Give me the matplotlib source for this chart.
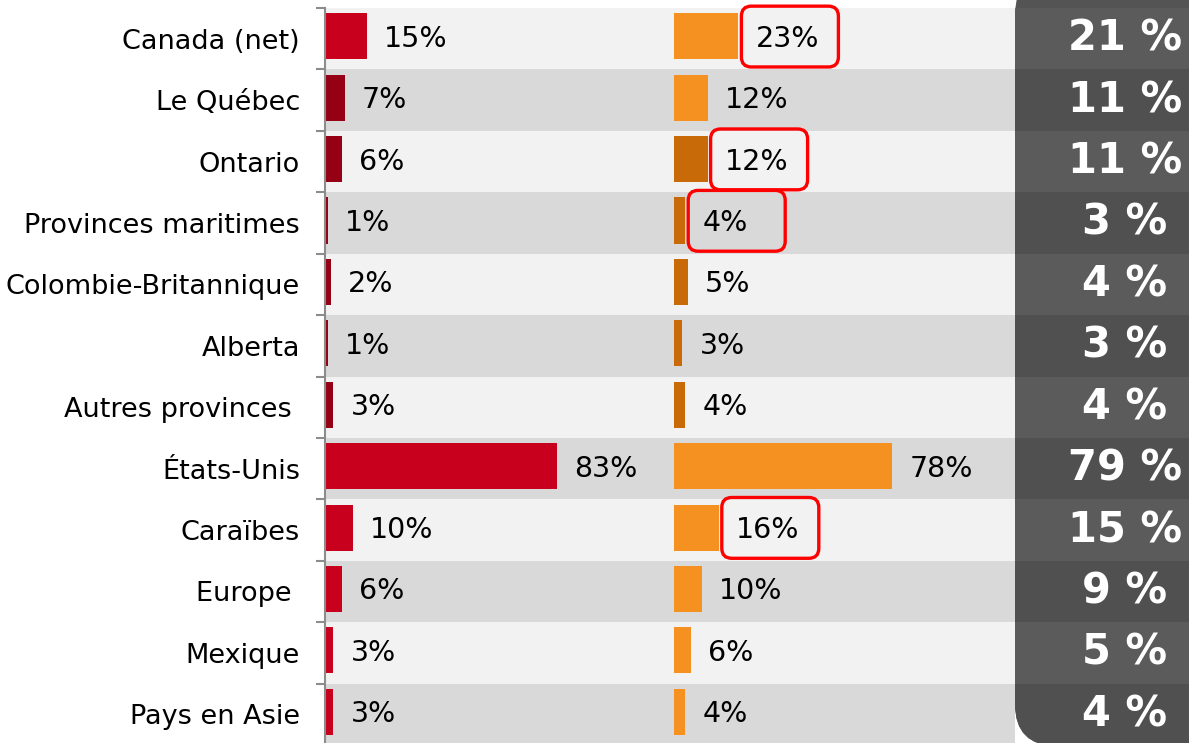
import matplotlib
matplotlib.use("Agg")
import matplotlib.pyplot as plt
from matplotlib.patches import FancyBboxPatch

categories = ["Canada (net)", "Le Québec", "Ontario", "Provinces maritimes",
              "Colombie-Britannique", "Alberta", "Autres provinces ", "États-Unis",
              "Caraïbes", "Europe ", "Mexique", "Pays en Asie"]
col1 = [15, 7, 6, 1, 2, 1, 3, 83, 10, 6, 3, 3]
col2 = [23, 12, 12, 4, 5, 3, 4, 78, 16, 10, 6, 4]
total = [21, 11, 11, 3, 4, 3, 4, 79, 15, 9, 5, 4]
highlighted = ["Canada (net)", "Ontario", "Provinces maritimes", "Caraïbes"]
subregions1 = ["Le Québec", "Ontario", "Provinces maritimes", "Colombie-Britannique",
               "Alberta", "Autres provinces "]
subregions2 = ["Ontario", "Provinces maritimes", "Colombie-Britannique",
               "Alberta", "Autres provinces "]

W, H, DPI = 1189, 743, 100
fig = plt.figure(figsize=(W / DPI, H / DPI), dpi=DPI)
fig.patch.set_facecolor("white")

PX_PER_PCT = 2.8
ROW_TOP, ROW_BOT = 8, 745
n = len(categories)

def fx(px):
    return px / W

y0 = (H - ROW_BOT) / H
hgt = (ROW_BOT - ROW_TOP) / H

ax1 = fig.add_axes([fx(325), y0, fx(674 - 325), hgt])
ax2 = fig.add_axes([fx(674), y0, fx(1015 - 674), hgt])
ax3 = fig.add_axes([fx(1015), y0, fx(W - 1015), hgt])

band_light, band_dark = "#f2f2f2", "#d9d9d9"
for ax, width_px in ((ax1, 674 - 325), (ax2, 1015 - 674)):
    ax.set_xlim(0, width_px / PX_PER_PCT)
    ax.set_ylim(n, 0)
    for i in range(n):
        ax.axhspan(i, i + 1, color=band_light if i % 2 == 0 else band_dark, lw=0, zorder=0)

red, dred = "#c8001e", "#960014"
org, dorg = "#f59121", "#c86a08"
fs_val = 20.5
ypos = [i + 0.46 for i in range(n)]
ytxt = [i + 0.5 for i in range(n)]

c1 = [dred if c in subregions1 else red for c in categories]
c2 = [dorg if c in subregions2 else org for c in categories]
ax1.barh(ypos, col1, height=0.75, color=c1, zorder=2)
ax2.barh(ypos, col2, height=0.75, color=c2, zorder=2)

for ax, vals in ((ax1, col1), (ax2, col2)):
    for y, v in zip(ytxt, vals):
        ax.annotate(f"{v}%", (v, y), xytext=(17 * 72 / DPI, 0), textcoords="offset points",
                    ha="left", va="center", fontsize=fs_val, color="black", zorder=3)

# highlight boxes
ma = PX_PER_PCT / ((ROW_BOT - ROW_TOP) / n)
for i, c in enumerate(categories):
    if c in highlighted:
        v = col2[i]
        bx = v + 3 / PX_PER_PCT
        box = FancyBboxPatch((bx, i - 0.03), 97 / PX_PER_PCT, 0.99,
                             boxstyle=f"round,pad=0,rounding_size={10 / PX_PER_PCT}",
                             mutation_aspect=ma, fc="none", ec="#ff0000", lw=2.4,
                             zorder=4, clip_on=False)
        ax2.add_patch(box)

# left axis styling
for ax in (ax1, ax2):
    for s in ax.spines.values():
        s.set_visible(False)
    ax.set_xticks([])
ax2.set_yticks([])
ax1.spines["left"].set_visible(True)
ax1.spines["left"].set_color("#8c8c8c")
ax1.spines["left"].set_linewidth(1.5)
ax1.set_yticks(ytxt)
ax1.set_yticklabels(categories, fontsize=19.5)
ax1.tick_params(axis="y", which="major", length=0, pad=18)
ax1.set_yticks(list(range(n + 1)), minor=True)
ax1.tick_params(axis="y", which="minor", length=6.5, width=1.5, color="#8c8c8c")

# right dark panel
ax3.set_xlim(0, 1)
ax3.set_ylim(n, 0)
ax3.axis("off")
panel = FancyBboxPatch((1015 / DPI, -0.03), 2.0, H / DPI + 0.3,
                       boxstyle="round,pad=0,rounding_size=0.42",
                       transform=fig.dpi_scale_trans, fc="#545454", ec="none",
                       clip_on=False, zorder=1)
ax3.add_patch(panel)
for i in range(n):
    span = ax3.axhspan(i, i + 1, color="#5b5b5b" if i % 2 == 0 else "#505050", lw=0, zorder=2)
    span.set_clip_on(True)
    span.set_clip_path(panel)
for y, t in zip(ytxt, total):
    ax3.text(0.632, y, f"{t} %", transform=ax3.get_yaxis_transform(), ha="center",
             va="center", fontsize=30, fontweight="bold", color="white", zorder=3)

fig.savefig("out.png", dpi=DPI)
